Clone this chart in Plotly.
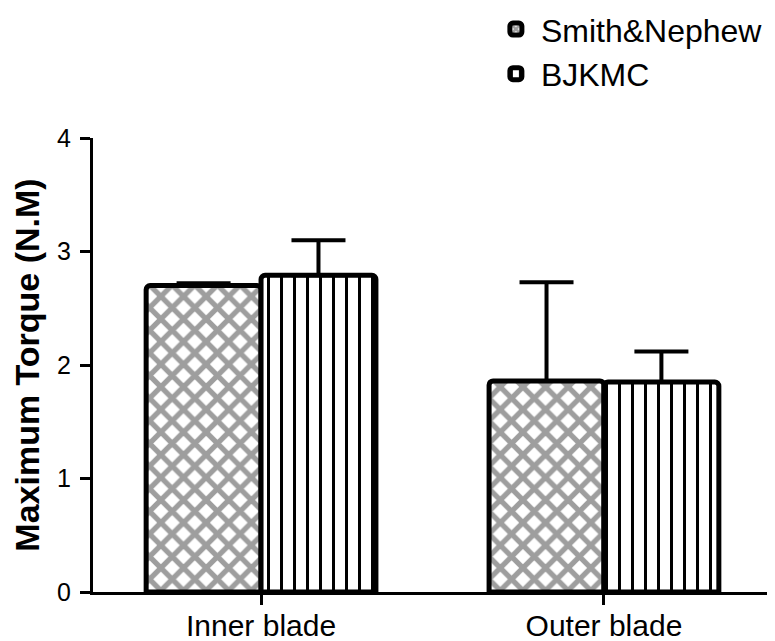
import plotly.graph_objects as go

categories = ["Inner blade", "Outer blade"]
smith_values = [2.70, 1.86]
smith_errors = [0.02, 0.87]
bjkmc_values = [2.79, 1.85]
bjkmc_errors = [0.31, 0.27]
y_ticks = [0, 1, 2, 3, 4]

FONT = "Liberation Sans, Arial, sans-serif"

fig = go.Figure()
fig.add_trace(go.Bar(
    name="Smith&Nephew",
    x=categories,
    y=smith_values,
    error_y=dict(type="data", array=smith_errors, arrayminus=[0, 0], symmetric=False,
                 color="black", thickness=4, width=27),
    marker=dict(color="white",
                line=dict(color="black", width=5),
                cornerradius=4,
                pattern=dict(shape="x", fgcolor="#9e9e9e", bgcolor="white",
                             size=16, solidity=0.55, fillmode="replace")),
))
fig.add_trace(go.Bar(
    name="BJKMC",
    x=categories,
    y=bjkmc_values,
    error_y=dict(type="data", array=bjkmc_errors, arrayminus=[0, 0], symmetric=False,
                 color="black", thickness=4, width=27),
    marker=dict(color="white",
                line=dict(color="black", width=5),
                cornerradius=4,
                pattern=dict(shape="|", fgcolor="black", bgcolor="white",
                             size=13, solidity=0.23, fillmode="replace")),
))

fig.update_layout(
    width=767, height=633,
    margin=dict(l=85, r=3, t=130, b=49, autoexpand=False),
    paper_bgcolor="white", plot_bgcolor="white",
    barmode="group", bargap=0.33, bargroupgap=0,
    font=dict(family=FONT, color="black", size=26),
    showlegend=True,
    legend=dict(x=0.586, y=1.30, xanchor="left", yanchor="top",
                font=dict(size=32, family=FONT), bgcolor="rgba(0,0,0,0)",
                tracegroupgap=0, itemwidth=40),
)
fig.update_xaxes(
    range=[-0.49, 1.49],
    showline=True, linecolor="black", linewidth=3,
    ticks="outside", ticklen=10, tickwidth=3, tickcolor="black",
    tickfont=dict(size=30, family=FONT), ticklabelstandoff=-5,
    showgrid=False, zeroline=False, automargin=False,
)
fig.update_yaxes(
    range=[0, 4], tickvals=y_ticks,
    showline=True, linecolor="black", linewidth=3,
    ticks="outside", ticklen=10, tickwidth=3, tickcolor="black",
    tickfont=dict(size=25, family=FONT), ticklabelstandoff=4,
    showgrid=False, zeroline=False, automargin=False,
    title=dict(text="<b>Maximum Torque (N.M)</b>", font=dict(size=34, family=FONT), standoff=8),
)

fig.write_html("out.html")
